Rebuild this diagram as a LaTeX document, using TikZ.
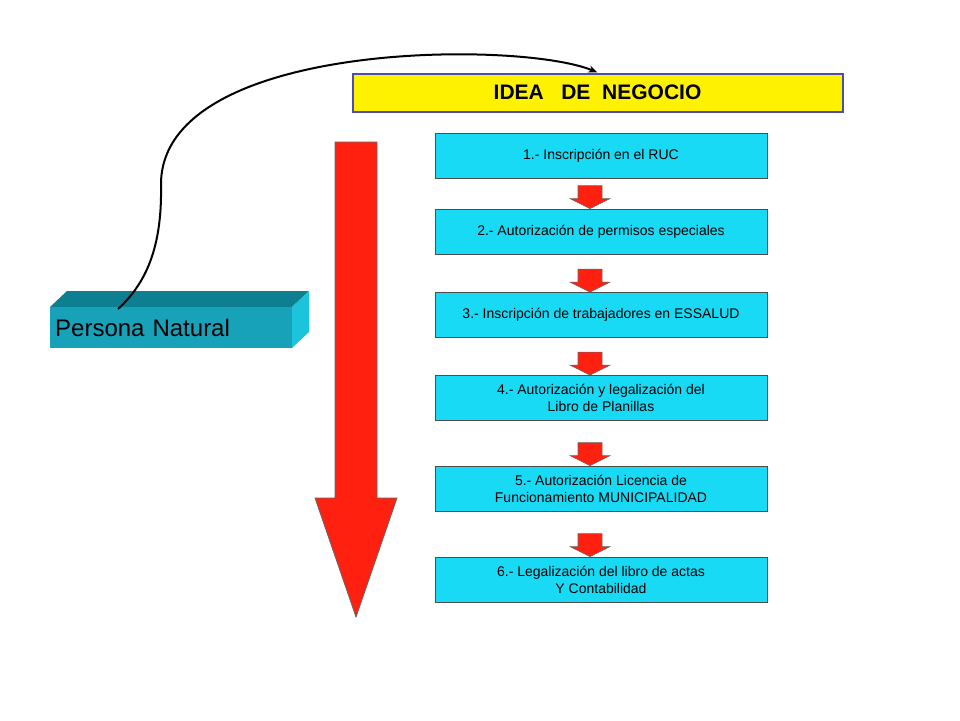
\documentclass[tikz,border=0pt]{standalone}
\usepackage{fontspec}
\setmainfont{Liberation Sans}
\usetikzlibrary{arrows.meta,calc}
\definecolor{cyanbox}{HTML}{18DAF5}
\definecolor{redar}{HTML}{FF2010}
\definecolor{teal1}{HTML}{17A2BA}
\definecolor{teal2}{HTML}{0D7F90}
\definecolor{teal3}{HTML}{1BC3DB}
\tikzset{
  stepbox/.style={draw=black!70, line width=0.8pt, fill=cyanbox, minimum width=332pt, minimum height=45pt, align=center, font=\fontsize{14}{17}\selectfont, inner sep=0pt},
  redarrow/.style={fill=redar, draw=black!60, line width=0.6pt}
}
\begin{document}
\begin{tikzpicture}[x=1pt,y=-1pt]
\useasboundingbox (0,0) rectangle (960,720);
\node[draw=gray!60!blue, line width=2pt, fill=yellow, minimum width=490pt, minimum height=38pt, font=\fontsize{21}{24}\selectfont\bfseries] (idea) at (597.5,92.5) {IDEA\ \ \ DE\ \ NEGOCIO};
\node[stepbox] (s1) at (601,156) {1.- Inscripción en el RUC};
\node[stepbox] (s2) at (601,231.5) {2.- Autorización de permisos especiales};
\node[stepbox] (s3) at (601,315) {3.- Inscripción de trabajadores en ESSALUD};
\node[stepbox] (s4) at (601,398) {4.- Autorización y legalización del\\Libro de Planillas};
\node[stepbox] (s5) at (601,488.5) {5.- Autorización Licencia de\\Funcionamiento MUNICIPALIDAD};
\node[stepbox] (s6) at (601,579.5) {6.- Legalización del libro de actas\\Y Contabilidad};
% small arrows
\foreach \a/\b in {s1/s2,s2/s3,s3/s4,s4/s5,s5/s6}{
  \coordinate (t) at ($(\b.north)+(-11,0)$);
  \draw[redarrow] ($(\b.north)+(-23,-23)$) -- ++(24,0) -- ++(0,13) -- ++(8,0) -- ($(\b.north)+(-11,0)$) -- ($(\b.north)+(-31,-10)$) -- ++(8,0) -- cycle;
}
% big arrow
\coordinate (bt) at (356,617);
\draw[redarrow, line width=0.8pt] (335,142) -- (377,142) -- (377,498) -- (397,498) -- (bt) -- (315,498) -- (335,498) -- cycle;
% cube
\fill[teal2] (50,307) -- (67,291) -- (309,291) -- (292,307) -- cycle;
\fill[teal3] (292,307) -- (309,291) -- (309,332) -- (292,348) -- cycle;
\node[fill=teal1, minimum width=242pt, minimum height=41pt, inner sep=0pt, anchor=north west, font=\fontsize{24}{28}\selectfont, text width=232pt] (pn) at (50,307) {Persona Natural};
\coordinate (cs) at (118,309);
\draw[line width=2pt, -{Stealth[length=9pt,width=7pt]}] (cs) .. controls (150,280) and (162,240) .. (161,185) .. controls (160,40) and (520,40) .. (idea.north);
\end{tikzpicture}
\end{document}
